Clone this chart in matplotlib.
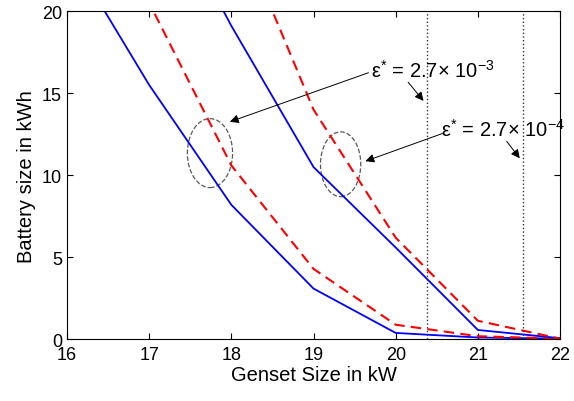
import matplotlib
matplotlib.use('Agg')
import matplotlib.pyplot as plt
from matplotlib.patches import Ellipse
import numpy as np

plt.rcParams['font.family'] = ['Liberation Sans', 'DejaVu Sans']
plt.rcParams['mathtext.fontset'] = 'custom'
plt.rcParams['mathtext.rm'] = 'Liberation Sans'
plt.rcParams['mathtext.default'] = 'rm'

# genset size (kW) and battery size (kWh) for the four curves
genset_left = [16, 17, 18, 19, 20, 21, 22]
blue_left = [23.8, 15.5, 8.2, 3.1, 0.4, 0.12, 0.05]
red_left = [29.0, 20.5, 10.6, 4.3, 0.9, 0.2, 0.05]

genset_right = [17, 18, 19, 20, 21, 22]
blue_right = [28.5, 19.1, 10.5, 5.6, 0.58, 0.08]
red_right = [38.0, 26.0, 14.0, 6.2, 1.14, 0.05]

# vertical dotted markers
eps_lines = [20.38, 21.55]
eps_labels = ['ε$^{*}$ = 2.7$\\times$ 10$^{-3}$', 'ε$^{*}$ = 2.7$\\times$ 10$^{-4}$']

fig = plt.figure(figsize=(5.74, 4.02), dpi=100)
ax = fig.add_axes([0.1167, 0.153, 0.859, 0.817])

ax.plot(genset_left, blue_left, color='b', lw=1.3)
ax.plot(genset_left, red_left, color='r', lw=1.5, ls=(0, (5, 3)))
ax.plot(genset_right, blue_right, color='b', lw=1.3)
ax.plot(genset_right, red_right, color='r', lw=1.5, ls=(0, (5, 3)))

for xv in eps_lines:
    ax.axvline(xv, color='0.2', ls=':', lw=1.0)

# ellipses around the pairs of curves
ax.add_patch(Ellipse((17.74, 11.35), 0.55, 4.2, fill=False, ec='0.35', ls='--', lw=0.9))
ax.add_patch(Ellipse((19.33, 10.67), 0.49, 3.95, fill=False, ec='0.35', ls='--', lw=0.9))

arrow = dict(arrowstyle='-|>', color='k', lw=0.7, mutation_scale=13)
ax.annotate('', xy=(17.95, 13.2), xytext=(19.7, 16.3), arrowprops=arrow)
ax.annotate('', xy=(20.36, 14.4), xytext=(20.13, 15.8), arrowprops=arrow)
ax.annotate('', xy=(19.6, 10.8), xytext=(20.6, 12.6), arrowprops=arrow)
ax.annotate('', xy=(21.53, 10.9), xytext=(21.33, 12.2), arrowprops=arrow)
ax.text(19.7, 16.45, eps_labels[0], fontsize=14.5, va='center', ha='left')
ax.text(20.55, 12.8, eps_labels[1], fontsize=14.5, va='center', ha='left')

ax.set_xlim(16, 22)
ax.set_ylim(0, 20)
ax.set_xticks([16, 17, 18, 19, 20, 21, 22])
ax.set_yticks([0, 5, 10, 15, 20])
ax.tick_params(direction='in', top=True, right=True, labelsize=13, length=4)
ax.tick_params(axis='x', pad=5)
ax.set_xlabel('Genset Size in kW', fontsize=14.5, labelpad=1)
ax.set_ylabel('Battery size in kWh', fontsize=14.5, labelpad=4)

fig.savefig('out.png', dpi=100)
